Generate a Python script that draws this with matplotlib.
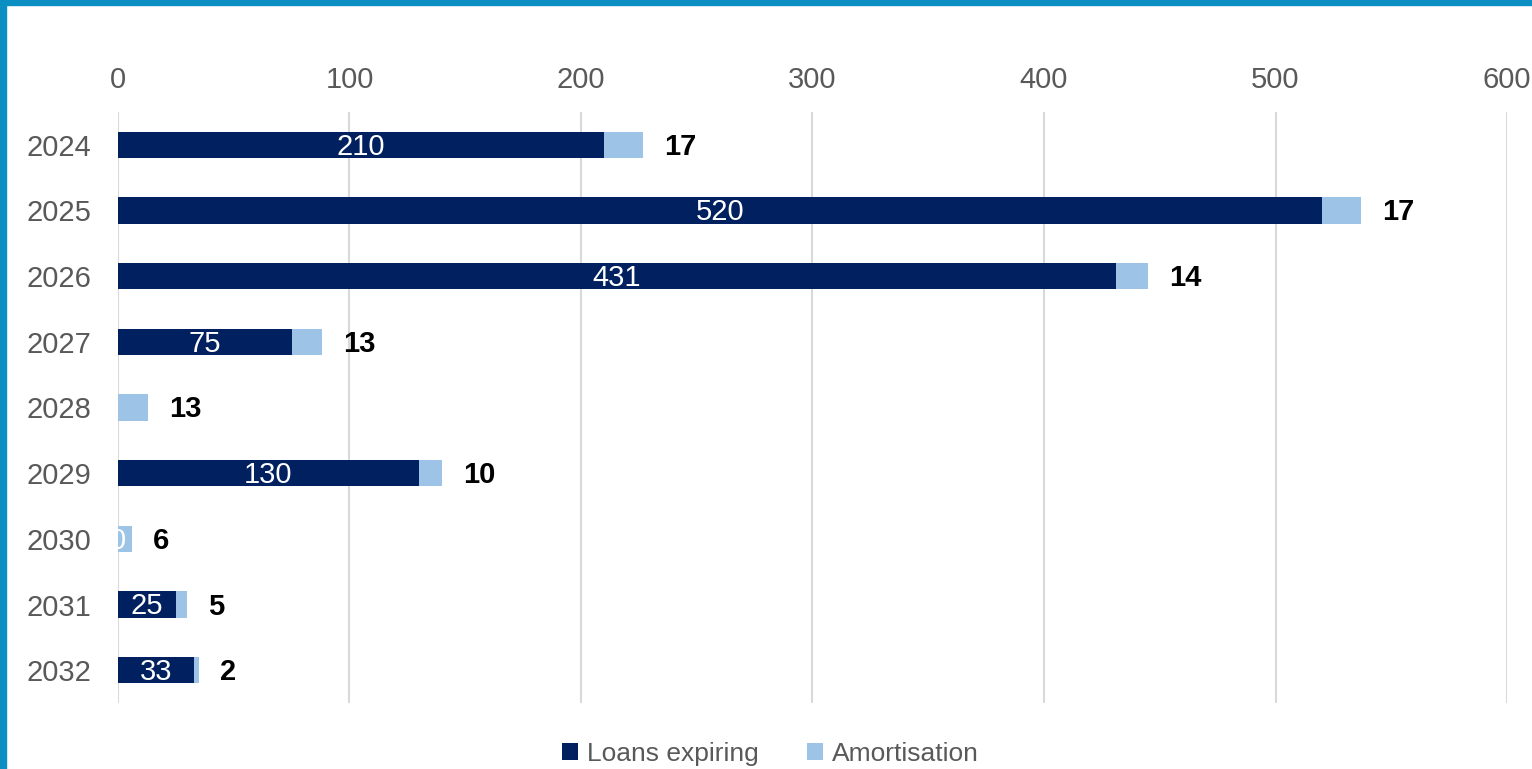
import numpy as np
import matplotlib
matplotlib.use("Agg")
import matplotlib.pyplot as plt
from matplotlib.patches import Rectangle

plt.rcParams['font.family'] = ['Liberation Sans', 'DejaVu Sans']

years = ['2024', '2025', '2026', '2027', '2028', '2029', '2030', '2031', '2032']
loans = [210, 520, 431, 75, np.nan, 130, 0, 25, 33]
amort = [17, 17, 14, 13, 13, 10, 6, 5, 2]
xticks = [0, 100, 200, 300, 400, 500, 600]

cLoan = '#002060'
cAmort = '#9DC3E6'
cBorder = '#0B8EC1'

fig = plt.figure(figsize=(15.32, 7.69), dpi=100)
ax = fig.add_axes([0.077, 0.0858, 0.9067, 0.7686])

y = np.arange(len(years))
loansPlot = np.nan_to_num(np.array(loans, dtype=float))
ax.barh(y, loansPlot, height=0.4, color=cLoan, label='Loans expiring', zorder=3)
ax.barh(y, amort, left=loansPlot, height=0.4, color=cAmort, label='Amortisation', zorder=3)

for i in range(len(years)):
   if not np.isnan(loans[i]):
      ax.text(loansPlot[i] / 2, i + 0.03, f"{loans[i]:.0f}", ha='center', va='center',
              color='white', fontsize=21, zorder=4)
   ax.annotate(f"{amort[i]}", (loansPlot[i] + amort[i], i), xytext=(21, -2),
               textcoords='offset pixels',
               ha='left', va='center', fontsize=21, fontweight='bold', color='black')

ax.set_xlim(0, 600)
ax.set_ylim(len(years) - 0.5, -0.5)
ax.set_xticks(xticks)
ax.set_yticks(y)
ax.set_yticklabels(years)
ax.xaxis.tick_top()
ax.tick_params(axis='x', length=0, pad=13, labelsize=21, labelcolor='#595959')
ax.tick_params(axis='y', length=0, pad=19, labelsize=21, labelcolor='#595959')
ax.grid(axis='x', color='#D9D9D9', linewidth=1.5, zorder=0)
ax.set_axisbelow(True)
for s in ax.spines.values():
   s.set_visible(False)

leg = fig.legend(loc='center', bbox_to_anchor=(0.503, 0.02), ncol=2, frameon=False,
                 fontsize=19, handlelength=0.58, handleheight=0.58, handletextpad=0.35,
                 columnspacing=1.85, labelcolor='#595959')

# frame border (top and left)
fig.patches.append(Rectangle((0, 1 - 5 / 769), 1, 5 / 769, transform=fig.transFigure,
                             color=cBorder, zorder=10))
fig.patches.append(Rectangle((0, 0), 6 / 1532, 1, transform=fig.transFigure,
                             color=cBorder, zorder=10))

fig.savefig('out.png', dpi=100)
